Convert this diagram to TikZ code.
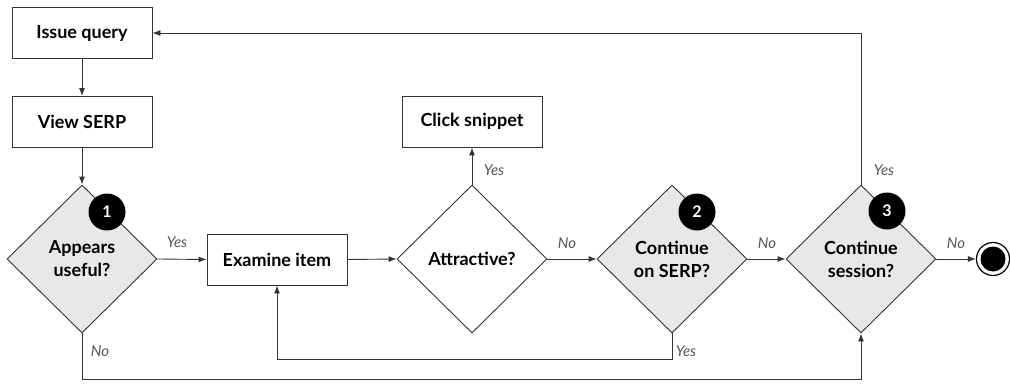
\documentclass[tikz,border=0pt]{standalone}
\usepackage{fontspec}
\setmainfont{Lato}
\usetikzlibrary{shapes.geometric,arrows.meta}
\definecolor{ln}{HTML}{333333}
\definecolor{dfill}{HTML}{E8E8E8}
\definecolor{lab}{HTML}{555555}
\tikzset{
  box/.style={draw=ln,line width=0.9pt,fill=white,minimum width=140pt,minimum height=51pt,inner sep=0pt,font=\fontsize{18}{21}\selectfont\bfseries},
  dia/.style={diamond,draw=ln,line width=0.9pt,fill=dfill,minimum width=150pt,minimum height=148pt,inner sep=0pt,align=center,font=\fontsize{18}{23}\selectfont\bfseries},
  badge/.style={circle,fill=black,text=white,minimum size=37pt,inner sep=0pt,font=\fontsize{16}{16}\selectfont\bfseries},
  conn/.style={draw=ln,line width=0.9pt,-{Latex[length=8pt,width=6pt]}},
  lbl/.style={text=lab,font=\fontsize{15}{15}\selectfont\itshape,inner sep=0pt}
}
\begin{document}
\begin{tikzpicture}[x=1pt,y=-1pt]
\useasboundingbox (0,0) rectangle (1010,391);
\node[box] (iq) at (82,33) {Issue query};
\node[box] (vs) at (82,122) {View SERP};
\node[dia] (d1) at (82,259) {Appears\\useful?};
\node[box] (ex) at (277,259.5) {Examine item};
\node[dia,fill=white] (at) at (472,259) {Attractive?};
\node[box] (cs) at (472,121.5) {Click snippet};
\node[dia] (d2) at (672,259) {Continue\\on SERP?};
\node[dia] (d3) at (861,259) {Continue\\session?};
\node[badge] (b1) at (107,212) {1};
\node[badge] (b2) at (697,212) {2};
\node[badge] (b3) at (887,211) {3};
\node[circle,draw=black,line width=1.2pt,fill=white,minimum size=33pt,inner sep=0pt] (end) at (993,259) {};
\node[circle,fill=black,minimum size=25pt,inner sep=0pt] (endin) at (end.center) {};
\coordinate (c2a) at (672,359);
\coordinate (c2b) at (277,359);
\coordinate (c1a) at (82,379);
\coordinate (c1b) at (861,379);
\coordinate (c3a) at (861,33);
\path[conn] (iq) -- (vs);
\path[conn] (vs) -- (d1.north);
\path[conn] (d1.east) -- (ex.west);
\path[conn] (ex.east) -- (at.west);
\path[conn] (at.north) -- (cs.south);
\path[conn] (at.east) -- (d2.west);
\path[conn] (d2.east) -- (d3.west);
\path[conn] (d3.east) -- (end.west);
\path[conn] (d2.south) -- (c2a) -- (c2b) -- (ex.south);
\path[conn] (d1.south) -- (c1a) -- (c1b) -- (d3.south);
\path[conn] (d3.north) -- (c3a) -- (iq.east);
\node[lbl] (l1) at (177,242) {Yes};
\node[lbl] (l2) at (494,170) {Yes};
\node[lbl] (l3) at (567,243) {No};
\node[lbl] (l4) at (767,243) {No};
\node[lbl] (l5) at (686,351) {Yes};
\node[lbl] (l6) at (100,351) {No};
\node[lbl] (l7) at (884,170) {Yes};
\node[lbl] (l8) at (956,243) {No};
\end{tikzpicture}
\end{document}
